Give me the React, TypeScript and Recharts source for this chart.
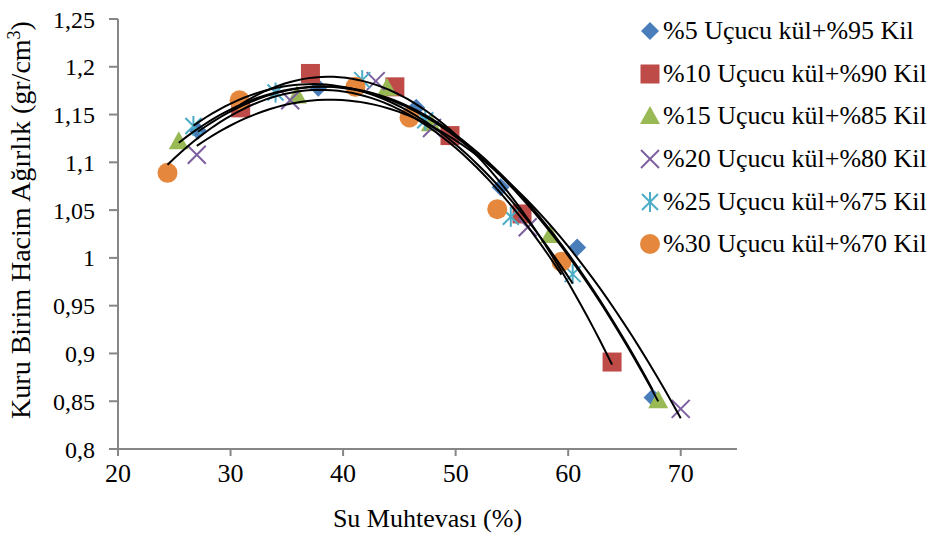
import React from "react";
import { ScatterChart, Scatter, XAxis, YAxis, Label } from "recharts";

// water content (%) and dry unit weight (gr/cm3)
const x5 = [27.1, 37.8, 46.5, 54.0, 60.8, 67.5];
const y5 = [1.133, 1.178, 1.157, 1.074, 1.011, 0.854];
const x10 = [30.9, 37.1, 44.6, 49.5, 55.9, 63.9];
const y10 = [1.157, 1.193, 1.179, 1.128, 1.046, 0.891];
const x15 = [25.4, 35.9, 43.9, 47.8, 58.4, 68.0];
const y15 = [1.122, 1.17, 1.178, 1.141, 1.024, 0.851];
const x20 = [27.0, 35.3, 42.9, 47.9, 56.4, 70.0];
const y20 = [1.108, 1.165, 1.185, 1.136, 1.032, 0.842];
const x25 = [26.7, 34.0, 41.7, 47.3, 54.9, 60.4];
const y25 = [1.138, 1.173, 1.186, 1.144, 1.043, 0.983];
const x30 = [24.4, 30.8, 41.1, 45.9, 53.7, 59.4];
const y30 = [1.089, 1.165, 1.179, 1.147, 1.051, 0.996];

const labels = [
  "%5 Uçucu kül+%95 Kil",
  "%10 Uçucu kül+%90 Kil",
  "%15 Uçucu kül+%85 Kil",
  "%20 Uçucu kül+%80 Kil",
  "%25 Uçucu kül+%75 Kil",
  "%30 Uçucu kül+%70 Kil",
];
const xTicks = [20, 30, 40, 50, 60, 70];
const yTicks = [0.8, 0.85, 0.9, 0.95, 1, 1.05, 1.1, 1.15, 1.2, 1.25];

const colors = ["#4A7EBB", "#BE4B48", "#98B954", "#7D5FA0", "#4BACC6", "#E5883E"];
const kinds = ["diamond", "square", "triangle", "x", "star", "circle"];

const FONT = "'Liberation Serif', 'DejaVu Serif', serif";
const AXIS = "#868686";

const raw = [
  [x5, y5],
  [x10, y10],
  [x15, y15],
  [x20, y20],
  [x25, y25],
  [x30, y30],
];
const series = raw.map(([xs, ys]) => xs.map((x, i) => ({ x, y: ys[i] })));

// 2nd order polynomial trendline (least squares), like Excel's
function quadFit(pts: { x: number; y: number }[]) {
  let s0 = 0, s1 = 0, s2 = 0, s3 = 0, s4 = 0, t0 = 0, t1 = 0, t2 = 0;
  for (const p of pts) {
    const x = p.x, y = p.y;
    s0 += 1; s1 += x; s2 += x * x; s3 += x * x * x; s4 += x * x * x * x;
    t0 += y; t1 += x * y; t2 += x * x * y;
  }
  const m = [
    [s0, s1, s2, t0],
    [s1, s2, s3, t1],
    [s2, s3, s4, t2],
  ];
  for (let i = 0; i < 3; i++) {
    for (let j = i + 1; j < 3; j++) {
      const f = m[j][i] / m[i][i];
      for (let k = i; k < 4; k++) m[j][k] -= f * m[i][k];
    }
  }
  const c = [0, 0, 0];
  for (let i = 2; i >= 0; i--) {
    let s = m[i][3];
    for (let k = i + 1; k < 3; k++) s -= m[i][k] * c[k];
    c[i] = s / m[i][i];
  }
  const xs = pts.map((p) => p.x);
  const lo = Math.min(...xs), hi = Math.max(...xs);
  const out = [];
  for (let i = 0; i <= 60; i++) {
    const x = lo + ((hi - lo) * i) / 60;
    out.push({ x, y: c[0] + c[1] * x + c[2] * x * x });
  }
  return out;
}
const fits = series.map(quadFit);

function Marker({ kind, color, cx, cy }: { kind: string; color: string; cx: number; cy: number }) {
  if (kind === "diamond")
    return <polygon points={`${cx},${cy - 9} ${cx + 9},${cy} ${cx},${cy + 9} ${cx - 9},${cy}`} fill={color} />;
  if (kind === "square") return <rect x={cx - 9.5} y={cy - 9.5} width={19} height={19} fill={color} />;
  if (kind === "triangle")
    return <polygon points={`${cx},${cy - 10} ${cx + 10},${cy + 8} ${cx - 10},${cy + 8}`} fill={color} />;
  if (kind === "x")
    return (
      <g stroke={color} strokeWidth={2}>
        <line x1={cx - 9} y1={cy - 9} x2={cx + 9} y2={cy + 9} />
        <line x1={cx - 9} y1={cy + 9} x2={cx + 9} y2={cy - 9} />
      </g>
    );
  if (kind === "star")
    return (
      <g stroke={color} strokeWidth={2}>
        <line x1={cx - 8} y1={cy - 8} x2={cx + 8} y2={cy + 8} />
        <line x1={cx - 8} y1={cy + 8} x2={cx + 8} y2={cy - 8} />
        <line x1={cx} y1={cy - 10} x2={cx} y2={cy + 10} />
      </g>
    );
  return <circle cx={cx} cy={cy} r={10} fill={color} />;
}

const fmt = (v: number) => String(Math.round(v * 100) / 100).replace(".", ",");

const css = `
body { margin: 0; font-family: 'Liberation Serif', serif; }
.recharts-cartesian-axis-tick-value, .recharts-cartesian-axis-tick-value tspan, .recharts-label {
  font-family: 'Liberation Serif', 'DejaVu Serif', serif !important;
  fill: #000 !important;
}
.xt .recharts-cartesian-axis-tick-value { font-size: 26px !important; }
.yt .recharts-cartesian-axis-tick-value { font-size: 24px !important; }
`;

function LegendBox() {
  return (
    <div style={{ position: "absolute", left: 638, top: 10, fontFamily: FONT, fontSize: 26, color: "#000" }}>
      {labels.map((l, i) => (
        <div key={l} style={{ display: "flex", alignItems: "center", height: 42.6, whiteSpace: "nowrap" }}>
          <svg width={24} height={24} style={{ marginRight: 1 }}>
            <Marker kind={kinds[i]} color={colors[i]} cx={12} cy={12} />
          </svg>
          <span>{l}</span>
        </div>
      ))}
    </div>
  );
}

export default function App() {
  return (
    <div style={{ position: "absolute", left: 0, top: 0, width: 936, height: 540, background: "#fff", fontFamily: FONT }}>
      <style>{css}</style>
      <ScatterChart width={936} height={540} margin={{ top: 19, right: 199, bottom: 21, left: 38 }}>
        <XAxis
          className="xt"
          type="number"
          dataKey="x"
          domain={[20, 75]}
          ticks={xTicks}
          allowDataOverflow
          height={70}
          stroke={AXIS}
          strokeWidth={2}
          tickSize={7}
          tickMargin={8}
          tick={{ fill: "#000", fontSize: 26, fontFamily: FONT }}
        >
          <Label
            value="Su Muhtevası (%)"
            position="insideBottom"
            offset={-8}
            style={{ fill: "#000", fontSize: 26, fontFamily: FONT }}
          />
        </XAxis>
        <YAxis
          className="yt"
          type="number"
          dataKey="y"
          domain={[0.8, 1.25]}
          ticks={yTicks}
          allowDataOverflow
          width={80}
          stroke={AXIS}
          strokeWidth={2}
          tickSize={9}
          tickMargin={14}
          tickFormatter={fmt}
          tick={{ fill: "#000", fontSize: 24, fontFamily: FONT }}
        />
        {series.map((d, i) => (
          <Scatter
            key={"s" + i}
            data={d}
            isAnimationActive={false}
            shape={(p: any) => <Marker kind={kinds[i]} color={colors[i]} cx={p.cx} cy={p.cy} />}
          />
        ))}
        {fits.map((d, i) => (
          <Scatter
            key={"f" + i}
            data={d}
            isAnimationActive={false}
            line={{ stroke: "#000", strokeWidth: 2 }}
            lineType="joint"
            shape={() => <g />}
          />
        ))}
        <text
          transform="translate(30,220) rotate(-90)"
          textAnchor="middle"
          style={{ fontSize: 28, fontFamily: FONT, fill: "#000" }}
        >
          Kuru Birim Hacim Ağırlık (gr/cm<tspan dy={-10} fontSize={18}>3</tspan>
          <tspan dy={10}>)</tspan>
        </text>
      </ScatterChart>
      <LegendBox />
    </div>
  );
}
